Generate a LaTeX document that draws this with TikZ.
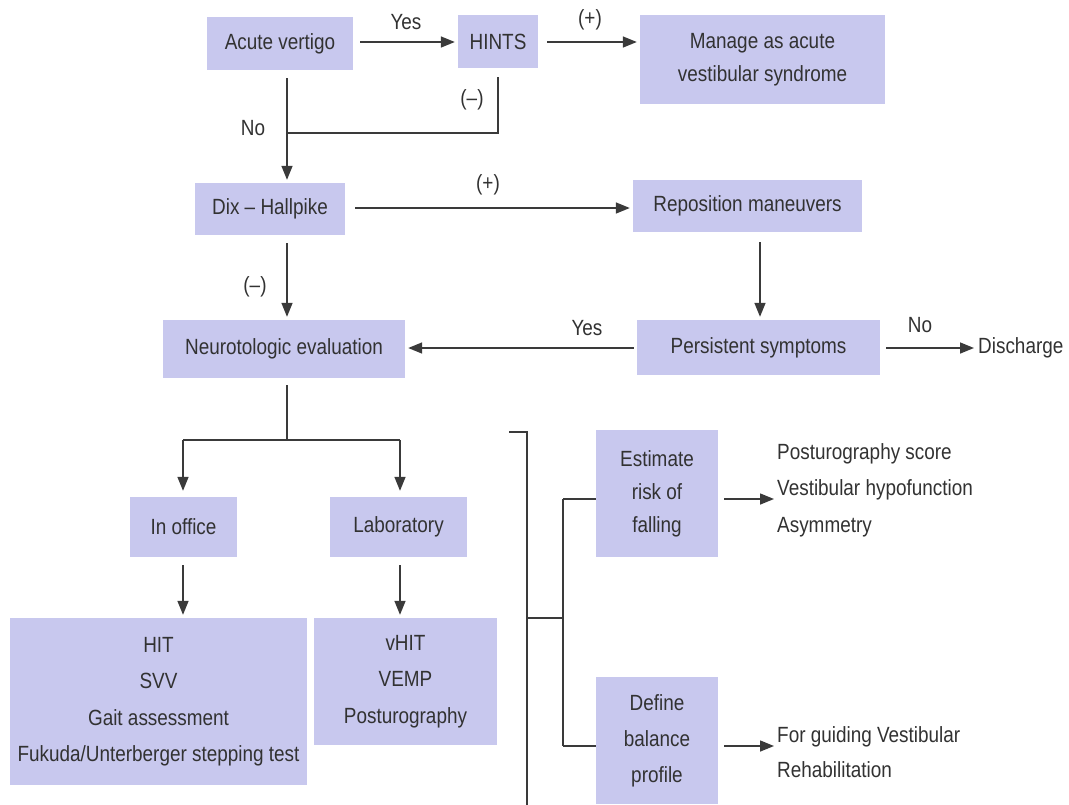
\documentclass[tikz,border=0pt]{standalone}
\usepackage{fontspec}
\setmainfont{Liberation Sans}[FakeStretch=0.86]
\usetikzlibrary{arrows.meta}
\definecolor{boxc}{RGB}{200,200,238}
\definecolor{ink}{RGB}{58,58,58}
\definecolor{txt}{RGB}{50,50,50}
\tikzset{
  box/.style={fill=boxc, inner sep=0pt, align=center, text=txt, font=\fontsize{22}{34}\selectfont},
  lbl/.style={text=txt, inner sep=0pt, font=\fontsize{22}{34}\selectfont},
  conn/.style={draw=ink, line width=1.5pt},
  arr/.style={conn, -{Triangle[length=14pt,width=11pt]}, shorten >=3pt},
}
\begin{document}
\begin{tikzpicture}[x=1pt,y=-1pt]
\useasboundingbox[fill=white] (0,0) rectangle (1069,804);
% boxes
\node[box, minimum width=146pt, minimum height=53pt] (av) at (280,43.5) {Acute vertigo};
\node[box, minimum width=80pt, minimum height=53pt] (hints) at (498,41.5) {HINTS};
\node[box, minimum width=245pt, minimum height=89pt, font=\fontsize{22}{33}\selectfont] (manage) at (762.5,59.5) {Manage as acute\\vestibular syndrome};
\node[box, minimum width=150pt, minimum height=52pt] (dix) at (270,209) {Dix -- Hallpike};
\node[box, minimum width=229pt, minimum height=52pt] (repo) at (747.5,206) {Reposition maneuvers};
\node[box, minimum width=242pt, minimum height=58pt] (neuro) at (284,349) {Neurotologic evaluation};
\node[box, minimum width=243pt, minimum height=55pt] (pers) at (758.5,347.5) {Persistent symptoms};
\node[lbl, anchor=west] (disch) at (978,348) {Discharge};
\node[box, minimum width=107pt, minimum height=60pt] (office) at (183.5,527) {In office};
\node[box, minimum width=137pt, minimum height=60pt] (lab) at (398.5,527) {Laboratory};
\node[box, minimum width=297pt, minimum height=167pt, font=\fontsize{22}{36.5}\selectfont] (hit) at (158.5,701.5) {HIT\\SVV\\Gait assessment\\Fukuda/Unterberger stepping test};
\node[box, minimum width=183pt, minimum height=127pt, font=\fontsize{22}{36.5}\selectfont] (vhit) at (405.5,681.5) {vHIT\\VEMP\\Posturography};
\node[box, minimum width=122pt, minimum height=127pt, font=\fontsize{22}{33}\selectfont] (est) at (657,493.5) {Estimate\\risk of\\falling};
\node[box, minimum width=122pt, minimum height=127pt, font=\fontsize{22}{36}\selectfont] (def) at (657,740.5) {Define\\balance\\profile};
\node[lbl, anchor=west, align=left, font=\fontsize{22}{36.5}\selectfont] (risk) at (777,490) {Posturography score\\Vestibular hypofunction\\Asymmetry};
\node[lbl, anchor=west, align=left, font=\fontsize{22}{35}\selectfont] (guide) at (777,752) {For guiding Vestibular\\Rehabilitation};
% helper coordinates
\coordinate (colA) at (287,0);
\coordinate (colB) at (760,0);
\coordinate (row1) at (0,42);
\coordinate (row3) at (0,348);
\coordinate (mergeY) at (0,133);
\coordinate (splitY) at (0,440);
\coordinate (colO) at (183,0);
\coordinate (colL) at (400,0);
\coordinate (brX) at (527,0);
\coordinate (inX) at (563,0);
\coordinate (rowE) at (0,499);
\coordinate (rowD) at (0,746);
% connectors top
\draw[arr, shorten <=7pt] (av.east |- row1) -- (hints.west |- row1);
\draw[arr, shorten <=9pt] (hints.east |- row1) -- (manage.west |- row1);
\draw[arr, shorten <=8pt] (av.south -| colA) -- (dix.north -| colA);
\draw[conn, shorten <=9pt] (hints.south) -- (hints.south |- mergeY) -- (colA |- mergeY);
\draw[arr, shorten <=10pt] (dix.east |- 0,208) -- (repo.west |- 0,208);
\draw[arr, shorten <=10pt] (repo.south -| colB) -- (pers.north -| colB);
\draw[arr, shorten <=8pt] (dix.south -| colA) -- (neuro.north -| colA);
\draw[arr, shorten <=3pt] (pers.west |- row3) -- (neuro.east |- row3);
\draw[arr, shorten <=6pt, shorten >=4pt] (pers.east |- row3) -- (disch.west |- row3);
% neuro split
\draw[conn, shorten <=7pt] (neuro.south -| colA) -- (colA |- splitY);
\draw[conn] (colO |- splitY) -- (colL |- splitY);
\draw[arr, shorten >=6pt] (colO |- splitY) -- (office.north -| colO);
\draw[arr, shorten >=6pt] (colL |- splitY) -- (lab.north -| colL);
\draw[arr, shorten <=8pt] (office.south -| colO) -- (hit.north -| colO);
\draw[arr, shorten <=8pt] (lab.south -| colL) -- (vhit.north -| colL);
% bracket
\draw[conn] (509,432) -- (brX |- 0,432) -- (brX |- 0,810);
\draw[conn] (brX |- 0,618) -- (inX |- 0,618);
\draw[conn] (inX |- rowE) -- (inX |- rowD);
\draw[conn] (inX |- rowE) -- (est.west |- rowE);
\draw[conn] (inX |- rowD) -- (def.west |- rowD);
\draw[arr, shorten <=6pt] (est.east |- rowE) -- (risk.west |- rowE);
\draw[arr, shorten <=6pt] (def.east |- rowD) -- (guide.west |- rowD);
% labels
\node[lbl] (l1) at (406,22) {Yes};
\node[lbl] (l2) at (590,20) {(+)};
\node[lbl] (l3) at (253,128) {No};
\node[lbl] (l4) at (472,100) {(--)};
\node[lbl] (l5) at (488,185) {(+)};
\node[lbl] (l6) at (255,287) {(--)};
\node[lbl] (l7) at (587,328) {Yes};
\node[lbl] (l8) at (920,325) {No};
\end{tikzpicture}
\end{document}
